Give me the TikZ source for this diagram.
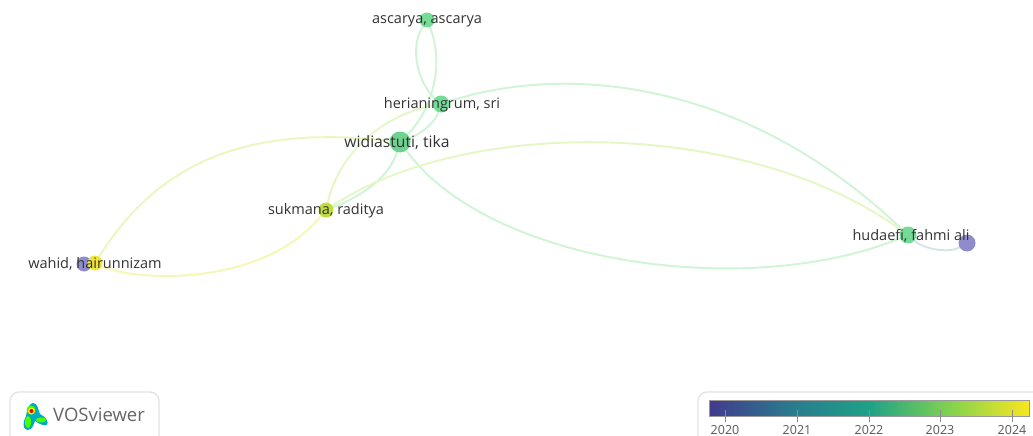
\documentclass[tikz,border=0pt]{standalone}
\usepackage{fontspec}
\setmainfont{Open Sans}
\usetikzlibrary{backgrounds}
\definecolor{nodePurple}{HTML}{8E8CCA}
\definecolor{nodeYellow}{HTML}{F0E43A}
\definecolor{nodeLime}{HTML}{BEDD3C}
\definecolor{nodeGreen}{HTML}{74DC97}
\definecolor{edgeGreen}{HTML}{CFF4D6}
\definecolor{edgeLime}{HTML}{E4F7C4}
\definecolor{edgeYellow}{HTML}{F7F7B4}
\definecolor{edgePurple}{HTML}{D5E4E6}
\definecolor{boxGrey}{HTML}{E2E2E2}
\definecolor{labelGrey}{HTML}{333333}
\definecolor{barA}{HTML}{423A8E}
\definecolor{barB}{HTML}{2A7A8E}
\definecolor{barC}{HTML}{1FA187}
\definecolor{barD}{HTML}{82D250}
\definecolor{barE}{HTML}{FAE61E}
\tikzset{
  item/.style={circle, inner sep=0pt, minimum size=#1},
  author/.style={font=\fontsize{14.5}{16}\selectfont, text=labelGrey, inner sep=0pt},
  link/.style={line width=1.9pt, line cap=round},
  panel/.style={draw=boxGrey, line width=1.2pt, rounded corners=9pt, fill=white},
  year/.style={font=\fontsize{12.5}{14}\selectfont, text=black!65, inner sep=0pt}
}
\begin{document}
\begin{tikzpicture}[x=1pt, y=-1pt]
\clip (0,0) rectangle (1033,436);

\node[item=15pt, fill=nodeGreen] (ascarya) at (427,20) {};
\node[item=17pt, fill=nodeGreen] (herianingrum) at (441,104) {};
\node[item=21pt, fill=nodeGreen!95!black] (widiastuti) at (400,142) {};
\node[item=15pt, fill=nodeLime] (sukmana) at (326,210) {};
\node[item=15pt, fill=nodePurple] (wahid) at (84,264) {};
\node[item=15pt, fill=nodeYellow] (hairunnizam) at (95,263) {};
\node[item=17pt, fill=nodeGreen] (hudaefi) at (908,235) {};
\node[item=17pt, fill=nodePurple] (hudaefib) at (967,243) {};

\begin{scope}[on background layer]
\fill[white] (0,0) rectangle (1033,436);
\draw[link, edgeGreen] (ascarya) .. controls (408,50) and (420,85) .. (herianingrum);
\draw[link, edgeGreen] (ascarya) .. controls (445,65) and (432,110) .. (widiastuti);
\draw[link, edgeGreen] (herianingrum) .. controls (436,120) and (425,132) .. (widiastuti);
\draw[link, edgeLime] (herianingrum) .. controls (385,115) and (340,150) .. (sukmana);
\draw[link, edgeGreen] (widiastuti) .. controls (390,175) and (365,195) .. (sukmana);
\draw[link, edgeGreen] (widiastuti) .. controls (490,265) and (750,300) .. (hudaefi);
\draw[link, edgeGreen] (herianingrum) .. controls (560,65) and (740,75) .. (hudaefi);
\draw[link, edgeLime] (sukmana) .. controls (470,115) and (750,120) .. (hudaefi);
\draw[link, edgeLime!70!edgeYellow] (hairunnizam) .. controls (160,160) and (250,125) .. (widiastuti);
\draw[link, edgeYellow] (sukmana) .. controls (260,290) and (130,280) .. (hairunnizam);
\draw[link, edgePurple] (hudaefi) .. controls (925,250) and (950,253) .. (hudaefib);
\end{scope}

\node[author] (ascaryaLabel) at (427,21) {ascarya, ascarya};
\node[author] (herianingrumLabel) at (442,105) {herianingrum, sri};
\node[author, font=\fontsize{15.7}{17}\selectfont] (widiastutiLabel) at (397,143) {widiastuti, tika};
\node[author] (sukmanaLabel) at (326,211) {sukmana, raditya};
\node[author] (wahidLabel) at (95,264) {wahid, hairunnizam};
\node[author] (hudaefiLabel) at (911,236) {hudaefi, fahmi ali};

\draw[panel] (10,392) rectangle (159,450);
\node[font=\fontsize{18.5}{20}\selectfont, text=black!60, inner sep=0pt, anchor=west] (vosLabel) at (53,415) {VOSviewer};
\fill[cyan!70!green] (33,403) .. controls (38,403) and (38,410) .. (40,414)
  .. controls (46,417) and (49,422) .. (47,425) .. controls (42,426) and (38,423) .. (35,421)
  .. controls (33,425) and (33,430) .. (27,430) .. controls (22,428) and (23,422) .. (26,416)
  .. controls (27,410) and (29,403) .. (33,403) -- cycle;
\fill[green!75!yellow] (31,410) circle (4.5pt);
\fill[green!70!yellow] (28,422) ellipse (3pt and 6pt);
\fill[green!70!yellow] (41,420) ellipse (5pt and 2.5pt);
\fill[yellow!90!orange] (31.5,411) circle (3.5pt);
\fill[red!85!black] (31.5,411) circle (2pt);

\draw[panel] (698,392) rectangle (1060,460);
\shade[left color=barA, right color=barB] (709,400) rectangle (789.5,416);
\shade[left color=barB, right color=barC] (789,400) rectangle (869.5,416);
\shade[left color=barC, right color=barD] (869,400) rectangle (949.5,416);
\shade[left color=barD, right color=barE] (949,400) rectangle (1029,416);
\draw[black!40, line width=0.8pt] (709,400) rectangle (1029,416);
\foreach \tickx/\tickyear in {725/2020, 797/2021, 869/2022, 940/2023, 1012/2024} {
  \draw[black!45, line width=0.8pt] (\tickx,410) -- (\tickx,422);
  \node[year] (y\tickyear) at (\tickx,430) {\tickyear};
}
\end{tikzpicture}
\end{document}
